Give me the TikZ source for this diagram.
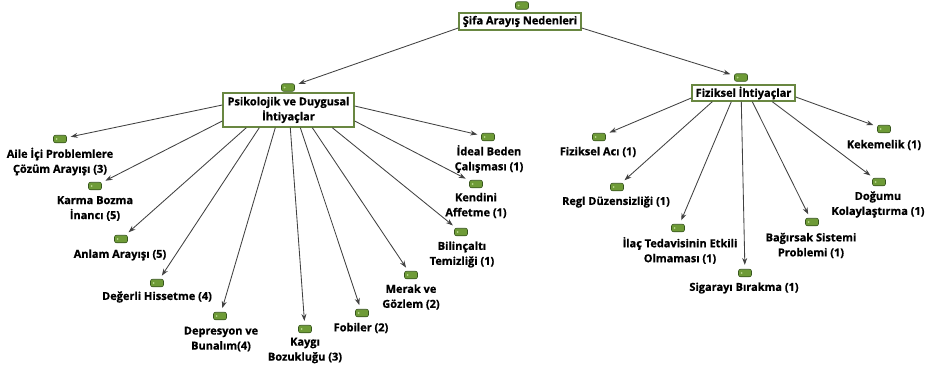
\documentclass[tikz,border=0pt]{standalone}
\usepackage{fontspec}
\setmainfont{Open Sans}[BoldFont={Open Sans Bold},BoldFeatures={FakeBold=0.8}]
\usetikzlibrary{arrows.meta}
\definecolor{boxline}{RGB}{105,135,65}
\definecolor{arrowc}{RGB}{65,65,65}
\definecolor{tagfill}{RGB}{110,155,55}
\definecolor{tagline}{RGB}{55,85,30}
\definecolor{taghole}{RGB}{185,215,140}
\begin{document}
\begin{tikzpicture}[x=1pt,y=-1pt,
  txt/.style={font=\bfseries\fontsize{11}{15}\selectfont},
  box/.style={txt,draw=boxline,line width=1.4pt,fill=white,align=center,inner sep=1pt},
  lbl/.style={txt,align=center,inner sep=0pt},
  tag/.style={draw=tagline,fill=tagfill,line width=0.6pt,rounded corners=2pt,minimum width=13pt,minimum height=7.5pt,inner sep=0pt,
    path picture={\fill[taghole] ([xshift=3.2pt]path picture bounding box.west) circle (1pt);}},
  arr/.style={draw=arrowc,line width=0.85pt,-{Stealth[length=7pt,width=5pt]},shorten >=4pt}]
\useasboundingbox (0,0) rectangle (934,372);
% boxes
\node[box,minimum width=122pt,minimum height=17pt] (root) at (520,21.5) {Şifa Arayış Nedenleri};
\node[tag] (iroot) at (522,5.5) {};
\node[box,minimum width=131pt,minimum height=34pt] (psy) at (288.5,110) {Psikolojik ve Duygusal\\İhtiyaçlar};
\node[tag] (ipsy) at (288,87.5) {};
\node[box,minimum width=103pt,minimum height=16pt] (fiz) at (743.5,93) {Fiziksel İhtiyaçlar};
\node[tag] (ifiz) at (741,77.5) {};
% psychological leaves
\node[tag] (i1) at (60,139) {};
\node[lbl] (t1) at (60,161.5) {Aile İçi Problemlere\\Çözüm Arayışı (3)};
\node[tag] (i2) at (95,186) {};
\node[lbl] (t2) at (95,208.5) {Karma Bozma\\İnancı (5)};
\node[tag] (i3) at (121,239) {};
\node[lbl] (t3) at (120,255) {Anlam Arayışı (5)};
\node[tag] (i4) at (157,283) {};
\node[lbl] (t4) at (157,297) {Değerli Hissetme (4)};
\node[tag] (i5) at (220,316) {};
\node[lbl] (t5) at (221,339) {Depresyon ve\\Bunalım(4)};
\node[tag] (i6) at (305,329) {};
\node[lbl] (t6) at (305,350.5) {Kaygı\\Bozukluğu (3)};
\node[tag] (i7) at (362,313) {};
\node[lbl] (t7) at (361,328) {Fobiler (2)};
\node[tag] (i8) at (411,275) {};
\node[lbl] (t8) at (411,297) {Merak ve\\Gözlem (2)};
\node[tag] (i9) at (461,232) {};
\node[lbl] (t9) at (462,254.5) {Bilinçaltı\\Temizliği (1)};
\node[tag] (i10) at (476,184) {};
\node[lbl] (t10) at (476,205.5) {Kendini\\Affetme (1)};
\node[tag] (i11) at (488,137) {};
\node[lbl] (t11) at (489,159) {İdeal Beden\\Çalışması (1)};
% physical leaves
\node[tag] (i12) at (599,137) {};
\node[lbl] (t12) at (598,152) {Fiziksel Acı (1)};
\node[tag] (i13) at (617,187) {};
\node[lbl] (t13) at (616,202) {Regl Düzensizliği (1)};
\node[tag] (i14) at (678,228) {};
\node[lbl] (t14) at (680,250.5) {İlaç Tedavisinin Etkili\\Olmaması (1)};
\node[tag] (i15) at (745,273) {};
\node[lbl] (t15) at (744,288) {Sigarayı Bırakma (1)};
\node[tag] (i16) at (812,222) {};
\node[lbl] (t16) at (811,245.5) {Bağırsak Sistemi\\Problemi (1)};
\node[tag] (i17) at (879,182) {};
\node[lbl] (t17) at (878,204.5) {Doğumu\\Kolaylaştırma (1)};
\node[tag] (i18) at (884,129) {};
\node[lbl] (t18) at (884,145) {Kekemelik (1)};
% connectors
\draw[arr] ([yshift=-6.5pt]root.west) -- (ipsy);
\draw[arr] ([yshift=-6.5pt]root.east) -- (ifiz);
\draw[arr] ([yshift=5pt]psy.west) -- (i1);
\draw[arr] ([yshift=-11pt]psy.west) -- (i2);
\draw[arr] ([xshift=24pt]psy.south west) -- (i3);
\draw[arr] ([xshift=37pt]psy.south west) -- (i4);
\draw[arr] ([xshift=53pt]psy.south west) -- (i5);
\draw[arr] ([xshift=68pt]psy.south west) -- (i6);
\draw[arr] ([xshift=78pt]psy.south west) -- (i7);
\draw[arr] ([xshift=90pt]psy.south west) -- (i8);
\draw[arr] ([xshift=110pt]psy.south west) -- (i9);
\draw[arr] ([yshift=-11pt]psy.east) -- (i10);
\draw[arr] ([yshift=4pt]psy.east) -- (i11);
\draw[arr] ([yshift=-5pt]fiz.west) -- (i12);
\draw[arr] ([xshift=21pt]fiz.south west) -- (i13);
\draw[arr] ([xshift=40pt]fiz.south west) -- (i14);
\draw[arr] ([xshift=50pt]fiz.south west) -- (i15);
\draw[arr] ([xshift=61pt]fiz.south west) -- (i16);
\draw[arr] ([xshift=81pt]fiz.south west) -- (i17);
\draw[arr] ([yshift=-4pt]fiz.east) -- (i18);
\end{tikzpicture}
\end{document}
